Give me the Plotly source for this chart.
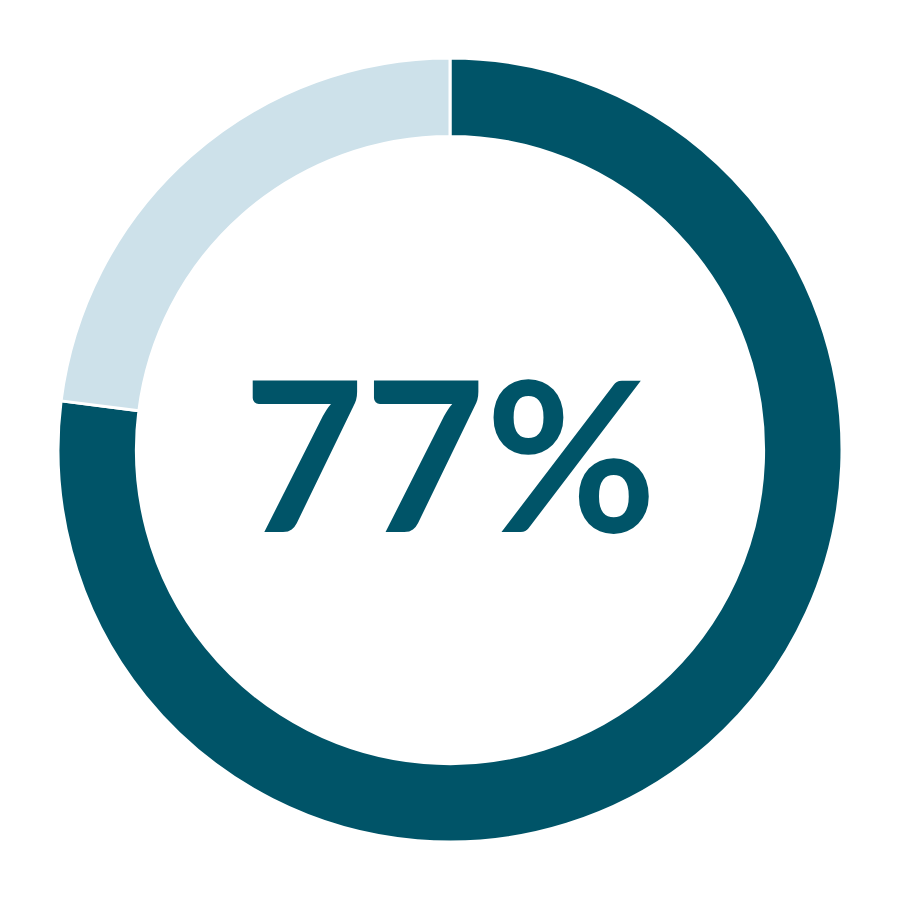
import plotly.graph_objects as go

labels = ["Yes", "No"]
values = [77, 23]
colors = ["#005468", "#cde1ea"]
center_text = "77%"

fig = go.Figure(go.Pie(
    labels=labels,
    values=values,
    hole=0.80,
    sort=False,
    direction="clockwise",
    rotation=0,
    marker=dict(colors=colors, line=dict(color="white", width=3)),
    textinfo="none",
    hoverinfo="none",
    showlegend=False,
    domain=dict(x=[50/900, 834/900], y=[66/900, 850/900]),
))

fig.add_annotation(
    text=center_text, x=442/900, y=457/900, xref="paper", yref="paper",
    showarrow=False, xanchor="center", yanchor="middle",
    font=dict(family="Lato", size=209, color="#005468", weight="bold"),
)

fig.update_layout(
    width=900, height=900,
    margin=dict(l=0, r=0, t=0, b=0),
    paper_bgcolor="white", plot_bgcolor="white",
)

fig.write_html("out.html")
